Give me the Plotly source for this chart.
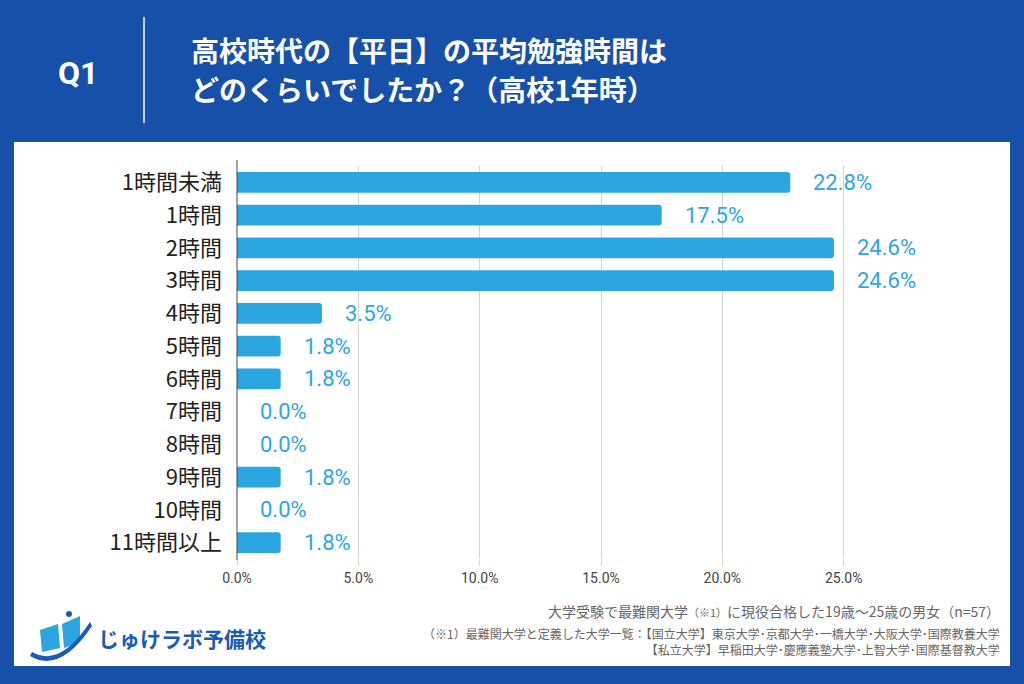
import plotly.graph_objects as go

categories = ["1時間未満", "1時間", "2時間", "3時間", "4時間", "5時間", "6時間",
              "7時間", "8時間", "9時間", "10時間", "11時間以上"]
values = [0.228, 0.175, 0.246, 0.246, 0.035, 0.018, 0.018, 0.0, 0.0, 0.018, 0.0, 0.018]
x_ticks = [0, 0.05, 0.10, 0.15, 0.20, 0.25]

W, H = 1024, 684
L, R, T, B = 237, 965, 166, 559
BLUE = "#1750a8"
BAR = "#2ca6e0"
FONT = "Noto Sans CJK JP"

def px(x):
    return (x - L) / (R - L)

def py(y):
    return 1 - (y - T) / (B - T)

fig = go.Figure()
fig.add_trace(go.Bar(
    x=values, y=categories, orientation="h",
    marker=dict(color=BAR, line=dict(width=0), cornerradius=3),
    hoverinfo="skip",
))

ann = []
for c, v in zip(categories, values):
    ann.append(dict(x=v, y=c, xref="x", yref="y", text=f"{v*100:.1f}%",
                    showarrow=False, xanchor="left", xshift=21,
                    font=dict(family="Roboto", size=22, color="#2ea6e0")))

shapes = [
    dict(type="rect", xref="paper", yref="paper", x0=px(14), x1=px(1010), y0=py(666), y1=py(142),
         fillcolor="white", line=dict(width=0), layer="below"),
    dict(type="line", xref="paper", yref="paper", x0=px(144), x1=px(144), y0=py(17), y1=py(123),
         line=dict(color="white", width=1.5)),
    dict(type="line", xref="paper", yref="paper", x0=0, x1=0, y0=py(560), y1=py(160),
         line=dict(color="#444", width=1)),
]

ann += [
    dict(x=px(78), y=py(73), xref="paper", yref="paper", text="<b>Q1</b>", showarrow=False,
         font=dict(family="Roboto", size=32, color="white"), xanchor="center", yanchor="middle"),
    dict(x=px(189), y=py(50), xref="paper", yref="paper", text="<b>高校時代の【平日】の平均勉強時間は</b>",
         showarrow=False, font=dict(family=FONT, size=28, color="white"), xanchor="left", yanchor="middle"),
    dict(x=px(189), y=py(89), xref="paper", yref="paper", text="<b>どのくらいでしたか？（高校1年時）</b>",
         showarrow=False, font=dict(family=FONT, size=28, color="white"), xanchor="left", yanchor="middle"),
    dict(x=px(96), y=py(638), xref="paper", yref="paper", text="<b>じゅけラボ予備校</b>",
         showarrow=False, font=dict(family=FONT, size=21, color="#1a5bb5"), xanchor="left", yanchor="middle"),
    dict(x=px(1002), y=py(611), xref="paper", yref="paper",
         text="大学受験で最難関大学<span style='font-size:11px'>（※1）</span>に現役合格した19歳～25歳の男女（n=57）",
         showarrow=False, font=dict(family=FONT, size=14, color="#666"), xanchor="right", yanchor="middle"),
    dict(x=px(1002), y=py(641), xref="paper", yref="paper",
         text="（※1）最難関大学と定義した大学一覧：【国立大学】東京大学･京都大学･一橋大学･大阪大学･国際教養大学"
              "<br>【私立大学】早稲田大学･慶應義塾大学･上智大学･国際基督教大学",
         showarrow=False, font=dict(family=FONT, size=12, color="#666"), xanchor="right", yanchor="middle",
         align="right"),
]

# simple book-like logo icon
shapes += [
    dict(type="path", xref="paper", yref="paper",
         path=f"M {px(40)} {py(630)} L {px(58)} {py(624)} L {px(60)} {py(648)} L {px(42)} {py(652)} Z",
         fillcolor="#2ca6e0", line=dict(width=0)),
    dict(type="path", xref="paper", yref="paper",
         path=f"M {px(62)} {py(624)} L {px(80)} {py(616)} L {px(80)} {py(642)} L {px(64)} {py(648)} Z",
         fillcolor="#2ca6e0", line=dict(width=0)),
    dict(type="path", xref="paper", yref="paper",
         path=f"M {px(32)} {py(652)} Q {px(60)} {py(668)} {px(90)} {py(622)} L {px(92)} {py(626)} Q {px(60)} {py(674)} {px(30)} {py(656)} Z",
         fillcolor="#1a5bb5", line=dict(width=0)),
    dict(type="circle", xref="paper", yref="paper",
         x0=px(66), x1=px(72), y0=py(617), y1=py(611),
         fillcolor="#1a5bb5", line=dict(width=0)),
]

fig.update_layout(
    width=W, height=H, autosize=False,
    paper_bgcolor=BLUE, plot_bgcolor="rgba(0,0,0,0)",
    margin=dict(l=L, r=W - R, t=T, b=H - B),
    bargap=0.36, showlegend=False,
    shapes=shapes, annotations=ann,
    xaxis=dict(range=[0, 0.30], tickvals=x_ticks, tickformat=".1%",
               showgrid=True, gridcolor="#d4d4d4", gridwidth=1, zeroline=False,
               ticks="outside", ticklen=6, tickcolor="#d4d4d4",
               tickfont=dict(family="Roboto", size=14, color="#444"), showline=False, fixedrange=True),
    yaxis=dict(autorange="reversed", showline=False,
               ticks="", tickfont=dict(family=FONT, size=22, color="#222"), ticklabelstandoff=14,
               showgrid=False, fixedrange=True),
)

fig.write_html("out.html", config={"displayModeBar": False},
               post_script="document.body.style.margin='0';document.body.style.overflow='hidden';")
